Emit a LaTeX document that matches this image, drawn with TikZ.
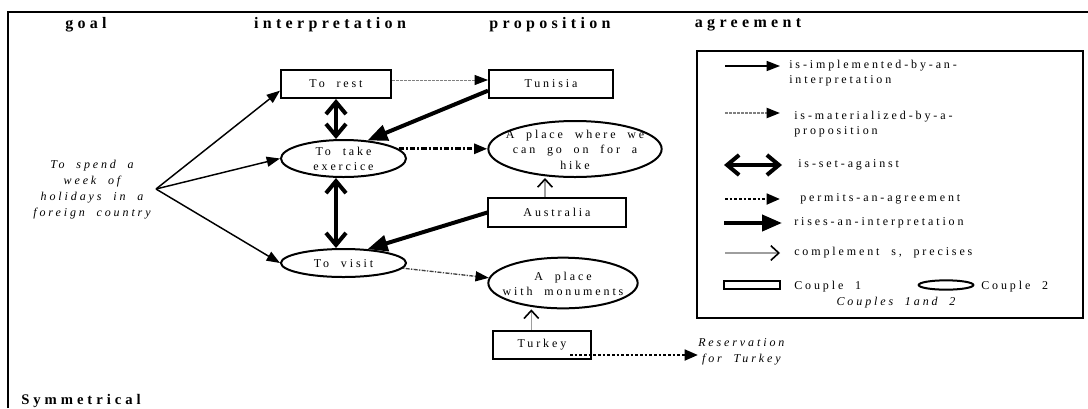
\documentclass[tikz,border=0pt]{standalone}
\usepackage{fontspec}
\setmainfont{Liberation Serif}[LetterSpace=24,WordSpace=2]
\newfontfamily\headfont{Liberation Serif}[LetterSpace=27,WordSpace=2]
\usepackage{tikz}
\usetikzlibrary{arrows.meta}
\usetikzlibrary{shapes.geometric}
\definecolor{materialColor}{gray}{0.5}
\definecolor{complementColor}{gray}{0.62}
\newcommand{\ovaltext}[1]{\makebox[0pt]{\smash{\raisebox{-3.5pt}{\begin{tabular}{@{}c@{}}#1\end{tabular}}}}}

\begin{document}
\begin{tikzpicture}[x=0.75pt,y=-0.75pt]

          \tikzstyle{normalText} = [font=\fontsize{9}{11.5}\selectfont, inner sep=0pt];
          \tikzstyle{italicText} = [font=\fontsize{9}{12}\selectfont\itshape, inner sep=0pt, align=center];
          \tikzstyle{headText} = [font=\headfont\bfseries\fontsize{12}{14}\selectfont, inner sep=0pt];

          \tikzstyle{couple1} = [draw, line width=1.5pt, rectangle, inner sep=0pt];
          \tikzstyle{couple2} = [draw, line width=1.5pt, ellipse, inner sep=0pt];

          \tikzstyle{implEdge} = [line width=1.1pt, -{Triangle[length=10pt,width=7.5pt]}];
          \tikzstyle{materialEdge} = [line width=0.6pt, materialColor, dash pattern=on 2pt off 1pt, -{Triangle[length=10pt,width=7.5pt,black]}];
          \tikzstyle{materialEdgeBis} = [line width=2.2pt, dash pattern=on 4pt off 1.5pt on 1.5pt off 1.5pt, -{Triangle[length=10pt,width=7.5pt]}];
          \tikzstyle{materialEdgeTer} = [line width=1pt, black!75, dash pattern=on 1pt off 1pt on 3pt off 1pt, -{Triangle[length=10pt,width=7.5pt,black]}];
          \tikzstyle{setEdge} = [line width=3pt, {Straight Barb[length=9pt,width=15pt]}-{Straight Barb[length=9pt,width=15pt]}];
          \tikzstyle{risesEdge} = [line width=3pt, -{Triangle[length=15pt,width=12pt]}];
          \tikzstyle{agreeEdge} = [line width=2pt, dash pattern=on 2pt off 1.5pt, -{Triangle[length=10pt,width=8pt]}];
          \tikzstyle{complementEdge} = [line width=0.8pt, complementColor, -{Straight Barb[length=6pt,width=11pt,line width=1.2pt,black]}];

          \useasboundingbox (0,0) rectangle (1088,408);
          \draw[line width=1.3pt] (8,408) -- (8,12) -- (1088,12);

          \node[headText] (goalHead) at (86,25) {goal};
          \node[headText] (interpHead) at (330,25) {interpretation};
          \node[headText] (propHead) at (550,25) {proposition};
          \node[headText] (agreeHead) at (748,25) {agreement};
          \node[headText, font=\headfont\bfseries\fontsize{11}{13}\selectfont, anchor=base west] (symHead) at (21,404) {Symmetrical};

          \node[italicText] (goal) at (92,190) {To spend a\\week of\\holidays in a\\foreign country};
          \coordinate (fork) at (156,189);

          \node[couple1, normalText, minimum width=82.5pt, minimum height=21pt] (torest) at (336,84) {To rest};
          \node[couple1, normalText, minimum width=93pt, minimum height=21pt] (tunisia) at (551,84) {Tunisia};
          \node[couple2, normalText, minimum width=93.75pt, minimum height=27.75pt] (exercice) at (343.5,158.5) {\ovaltext{To take\\exercice}};
          \node[couple2, normalText, minimum width=130pt, minimum height=42pt] (hike) at (575,149) {\ovaltext{A place where we\\can go on for a\\hike}};
          \node[couple1, normalText, minimum width=103pt, minimum height=22pt] (australia) at (557,212.5) {Australia};
          \node[couple2, normalText, minimum width=93.75pt, minimum height=21pt] (visit) at (343.5,263) {\ovaltext{To visit}};
          \node[couple2, normalText, minimum width=112pt, minimum height=38pt] (monuments) at (563,283) {\ovaltext{A place\\with monuments}};
          \node[couple1, normalText, minimum width=73pt, minimum height=21pt] (turkey) at (542,344.5) {Turkey\hspace{8pt}};
          \node[italicText, anchor=west] (reservation) at (698,352) {Reservation\\for Turkey};
          \coordinate (turkeyOut) at (570,355);

          \draw[implEdge] (fork) -- ([yshift=-5pt]torest.west);
          \draw[implEdge] (fork) -- (exercice.west);
          \draw[implEdge] (fork) -- (visit.west);
          \draw[materialEdge] ([yshift=3pt]torest.east) -- ([yshift=3pt]tunisia.west);
          \draw[setEdge] (torest.south) -- (torest.south |- exercice.north);
          \draw[setEdge] (exercice.south -| torest.south) -- (visit.north -| torest.south);
          \draw[risesEdge] ([yshift=-5pt]tunisia.west) -- (exercice.37);
          \draw[risesEdge] (australia.west) -- (visit.30);
          \draw[materialEdgeBis] (exercice.10) -- (exercice.10 -| hike.west);
          \draw[complementEdge] ([xshift=-9pt]australia.north) -- ([xshift=-9pt]australia.north |- hike.south);
          \draw[materialEdgeTer] (visit.-5) -- (monuments.176);
          \draw[complementEdge] ([xshift=-8pt]turkey.north) -- ([xshift=-8pt]turkey.north |- monuments.south);
          \draw[agreeEdge] (turkeyOut) -- (turkeyOut -| reservation.west);

          \draw[line width=1.3pt] (697,51) rectangle (1083,318);
          \coordinate (implA) at (725,66);
          \coordinate (implB) at (780,66);
          \coordinate (matA) at (725,113);
          \coordinate (matB) at (780,113);
          \coordinate (setA) at (724,165);
          \coordinate (setB) at (782,165);
          \coordinate (permA) at (725,199);
          \coordinate (permB) at (780,199);
          \coordinate (risesA) at (724,223);
          \coordinate (risesB) at (782,223);
          \coordinate (compA) at (725,253);
          \coordinate (compB) at (780,253);

          \draw[implEdge] (implA) -- (implB);
          \draw[materialEdge, line width=1.5pt] (matA) -- (matB);
          \draw[setEdge] (setA) -- (setB);
          \draw[agreeEdge] (permA) -- (permB);
          \draw[risesEdge] (risesA) -- (risesB);
          \draw[complementEdge] (compA) -- (compB);

          \node[normalText, anchor=west, align=left] (implText) at (789,73) {is-implemented-by-an-\\interpretation};
          \node[normalText, anchor=west, align=left] (matText) at (794,124) {is-materialized-by-a-\\proposition};
          \node[normalText, anchor=west] (setText) at (798,165) {is-set-against};
          \node[normalText, anchor=west] (permText) at (800,199) {permits-an-agreement};
          \node[normalText, anchor=west] (risesText) at (794,223) {rises-an-interpretation};
          \node[normalText, anchor=west] (compText) at (794,253) {complement s, precises};
          \node[couple1, minimum width=42pt, minimum height=6.5pt] (couple1Sample) at (752,285) {};
          \node[normalText, anchor=west] (couple1Text) at (794,287) {Couple 1};
          \node[couple2, minimum width=41pt, minimum height=7pt] (couple2Sample) at (946,285) {};
          \node[normalText, anchor=west] (couple2Text) at (981,287) {Couple 2};
          \node[italicText] (couplesText) at (896,303) {Couples 1and 2};
        \end{tikzpicture}
\end{document}
